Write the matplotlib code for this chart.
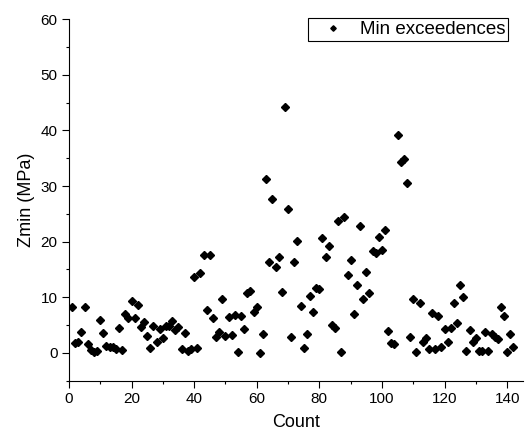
import numpy as np
import matplotlib
matplotlib.use('Agg')
import matplotlib.pyplot as plt
from matplotlib.ticker import MultipleLocator

# Zmin values, one per count (1..142)
zmin = [
    8.2, 1.8, 1.9, 3.7, 8.3, 1.6, 0.5, 0.1, 0.4, 5.9,
    3.5, 1.3, 1.1, 1.0, 0.6, 4.4, 0.5, 6.9, 6.3, 9.4,
    6.2, 8.6, 4.6, 5.5, 3.0, 0.8, 4.9, 2.0, 4.2, 2.6,
    4.9, 4.8, 5.7, 4.1, 4.7, 0.7, 3.6, 0.4, 0.6, 13.7,
    0.9, 14.3, 17.6, 7.7, 17.6, 6.2, 2.9, 3.8, 9.6, 3.0,
    6.5, 3.2, 6.8, 0.2, 6.6, 4.2, 10.8, 11.1, 7.3, 8.2,
    0.0, 3.3, 31.3, 16.4, 27.7, 15.4, 17.2, 10.9, 44.2, 25.9,
    2.8, 16.3, 20.2, 8.4, 0.85, 3.4, 10.3, 7.4, 11.6, 11.4,
    20.7, 17.3, 19.3, 5.0, 4.4, 23.8, 0.1, 24.4, 14.0, 16.7,
    7.0, 12.2, 22.8, 9.7, 14.5, 10.8, 18.4, 17.9, 20.8, 18.5,
    22.1, 3.9, 1.7, 1.6, 39.2, 34.3, 34.9, 30.5, 2.8, 9.6,
    0.1, 8.9, 1.9, 2.7, 0.7, 7.2, 0.7, 6.7, 1.0, 4.2,
    1.9, 4.4, 9.0, 5.4, 12.2, 10.0, 0.3, 4.1, 2.0, 2.7,
    0.3, 0.3, 3.7, 0.3, 3.4, 2.8, 2.5, 8.2, 6.7, 0.2,
    3.3, 1.1,
]
counts = np.arange(1, len(zmin) + 1)

seriesLabel = "Min exceedences"
xLabel = "Count"
yLabel = "Zmin (MPa)"

plt.rcParams['font.family'] = ['Liberation Sans', 'DejaVu Sans']

fig = plt.figure(figsize=(5.26, 4.38), dpi=100)
ax = fig.add_axes([0.131, 0.131, 0.863, 0.825])

ax.plot(counts, zmin, linestyle='none', marker='D', markersize=3.7,
        color='black', label=seriesLabel)

ax.set_xlim(0, 145)
ax.set_ylim(-5, 60)
ax.xaxis.set_major_locator(MultipleLocator(20))
ax.xaxis.set_minor_locator(MultipleLocator(10))
ax.yaxis.set_minor_locator(MultipleLocator(5))
ax.set_yticks([0, 10, 20, 30, 40, 50, 60])

ax.spines['top'].set_visible(False)
ax.spines['right'].set_visible(False)
for side in ('left', 'bottom'):
    ax.spines[side].set_linewidth(0.8)

ax.tick_params(which='major', direction='out', length=4.8, width=0.8, labelsize=11)
ax.tick_params(which='minor', direction='out', length=2.5, width=0.8)

ax.set_xlabel(xLabel, fontsize=13, labelpad=6)
ax.set_ylabel(yLabel, fontsize=13, labelpad=4)

leg = ax.legend(loc='upper right', bbox_to_anchor=(0.968, 1.003), borderaxespad=0,
                fontsize=13.5, numpoints=1, fancybox=False, framealpha=1,
                edgecolor='black', borderpad=0.15, handlelength=2.3,
                handletextpad=0.3, markerscale=0.75)
leg.get_frame().set_linewidth(0.8)

fig.savefig('out.png', dpi=100)
